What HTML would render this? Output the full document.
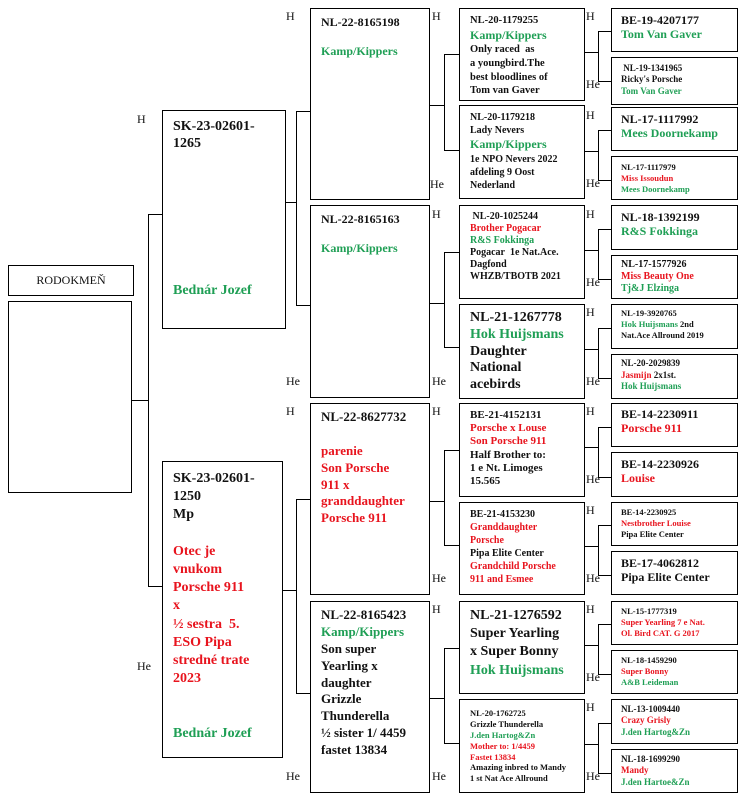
<!DOCTYPE html>
<html><head><meta charset="utf-8"><style>
body{margin:0;width:755px;height:809px;background:#fff;position:relative;overflow:hidden;font-family:"Liberation Serif",serif;font-weight:bold;color:#111}
.b{position:absolute;border:1.5px solid #000;box-sizing:border-box;padding:4px 8px;line-height:1.2}
.l{position:absolute;background:#000}
.t{position:absolute;font-weight:normal;font-size:12px}
.g{color:#1f9f55}.r{color:#e8141e}
</style></head><body>
<div class="b" style="left:8px;top:265px;width:126px;height:31px;font-weight:normal;font-size:12px;text-align:center;padding-top:7px">RODOKMEŇ</div>
<div class="b" style="left:8px;top:301px;width:124px;height:192px"></div>
<div class="b" style="left:162px;top:110px;width:124px;height:219px;font-size:14px;padding:8px 10px">SK-23-02601-<br>1265<div class="g" style="position:absolute;top:172px;left:10px">Bednár Jozef</div></div>
<div class="b" style="left:162px;top:461px;width:121px;height:297px;font-size:14px;padding:8px 10px;line-height:1.3">SK-23-02601-<br>1250<br>Mp<br><br><span class="r">Otec je<br>vnukom<br>Porsche 911<br>x<br>½ sestra&nbsp; 5.<br>ESO Pipa<br>stredné trate<br>2023</span><br><br><br><span class="g">Bednár Jozef</span></div>
<div class="b" style="left:310px;top:8px;width:120px;height:192px;font-size:12px;padding:6px 10px">NL-22-8165198<br><br><span class="g">Kamp/Kippers</span></div>
<div class="b" style="left:310px;top:205px;width:120px;height:193px;font-size:12px;padding:6px 10px">NL-22-8165163<br><br><span class="g">Kamp/Kippers</span></div>
<div class="b" style="left:310px;top:403px;width:120px;height:192px;font-size:13px;padding:5px 10px;line-height:1.3">NL-22-8627732<br><br><span class="r">parenie<br>Son Porsche<br>911 x<br>granddaughter<br>Porsche 911</span></div>
<div class="b" style="left:310px;top:601px;width:120px;height:192px;font-size:13px;padding:5px 10px;line-height:1.3">NL-22-8165423<br><span class="g">Kamp/Kippers</span><br>Son super<br>Yearling x<br>daughter<br>Grizzle<br>Thunderella<br>½ sister 1/ 4459<br>fastet 13834</div>
<div class="b" style="left:459px;top:8px;width:126px;height:93px;font-size:10.5px;padding:5px 10px;line-height:1.3">NL-20-1179255<br><span class="g" style="font-size:12px">Kamp/Kippers</span><br>Only raced&nbsp; as<br>a youngbird.The<br>best bloodlines of<br>Tom van Gaver</div>
<div class="b" style="left:459px;top:105px;width:126px;height:94px;font-size:10px;padding:5px 10px;line-height:1.3">NL-20-1179218<br>Lady Nevers<br><span class="g" style="font-size:12px">Kamp/Kippers</span><br>1e NPO Nevers 2022<br>afdeling 9 Oost<br>Nederland</div>
<div class="b" style="left:459px;top:205px;width:126px;height:94px;font-size:10px;padding:5px 10px;line-height:1.2">&nbsp;NL-20-1025244<br><span class="r">Brother Pogacar</span><br><span class="g">R&amp;S Fokkinga</span><br>Pogacar&nbsp; 1e Nat.Ace.<br>Dagfond<br>WHZB/TBOTB 2021</div>
<div class="b" style="left:459px;top:304px;width:126px;height:95px;font-size:14px;padding:5px 10px;line-height:1.2">NL-21-1267778<br><span class="g">Hok Huijsmans</span><br>Daughter<br>National<br>acebirds</div>
<div class="b" style="left:459px;top:403px;width:126px;height:94px;font-size:11px;padding:5px 10px;line-height:1.2">BE-21-4152131<br><span class="r">Porsche x Louse<br>Son Porsche 911</span><br>Half Brother to:<br>1 e Nt. Limoges<br>15.565</div>
<div class="b" style="left:459px;top:502px;width:126px;height:93px;font-size:10px;padding:5px 10px;line-height:1.3">BE-21-4153230<br><span class="r">Granddaughter<br>Porsche</span><br>Pipa Elite Center<br><span class="r">Grandchild Porsche<br>911 and Esmee</span></div>
<div class="b" style="left:459px;top:601px;width:126px;height:93px;font-size:14px;padding:5px 10px;line-height:1.3">NL-21-1276592<br>Super Yearling<br>x Super Bonny<br><span class="g">Hok Huijsmans</span></div>
<div class="b" style="left:459px;top:699px;width:126px;height:94px;font-size:8.5px;padding:8px 10px;line-height:1.28">NL-20-1762725<br>Grizzle Thunderella<br><span class="g">J.den Hartog&amp;Zn</span><br><span class="r">Mother to: 1/4459<br>Fastet 13834</span><br>Amazing inbred to Mandy<br>1 st Nat Ace Allround</div>
<div class="b" style="left:611px;top:8px;width:127px;height:44px;font-size:12px;padding:4px 9px">BE-19-4207177<br><span class="g">Tom Van Gaver</span></div>
<div class="b" style="left:611px;top:57px;width:127px;height:48px;font-size:9px;padding:5px 9px;line-height:1.25">&nbsp;NL-19-1341965<br>Ricky's Porsche<br><span class="g">Tom Van Gaver</span></div>
<div class="b" style="left:611px;top:107px;width:127px;height:44px;font-size:12px;padding:4px 9px">NL-17-1117992<br><span class="g">Mees Doornekamp</span></div>
<div class="b" style="left:611px;top:156px;width:127px;height:44px;font-size:8.5px;padding:5px 9px;line-height:1.3">NL-17-1117979<br><span class="r">Miss Issoudun</span><br><span class="g">Mees Doornekamp</span></div>
<div class="b" style="left:611px;top:205px;width:127px;height:45px;font-size:12px;padding:4px 9px">NL-18-1392199<br><span class="g">R&amp;S Fokkinga</span></div>
<div class="b" style="left:611px;top:255px;width:127px;height:44px;font-size:10px;padding:3px 9px;line-height:1.2">NL-17-1577926<br><span class="r">Miss Beauty One</span><br><span class="g">Tj&amp;J Elzinga</span></div>
<div class="b" style="left:611px;top:304px;width:127px;height:45px;font-size:8.5px;padding:3px 9px;line-height:1.28">NL-19-3920765<br><span class="g">Hok Huijsmans</span> 2nd<br>Nat.Ace Allround 2019</div>
<div class="b" style="left:611px;top:354px;width:127px;height:45px;font-size:9px;padding:3px 9px;line-height:1.3">NL-20-2029839<br><span class="r">Jasmijn</span> 2x1st.<br><span class="g">Hok Huijsmans</span></div>
<div class="b" style="left:611px;top:403px;width:127px;height:44px;font-size:12px;padding:3px 9px">BE-14-2230911<br><span class="r">Porsche 911</span></div>
<div class="b" style="left:611px;top:452px;width:127px;height:45px;font-size:12px;padding:4px 9px">BE-14-2230926<br><span class="r">Louise</span></div>
<div class="b" style="left:611px;top:502px;width:127px;height:44px;font-size:8.5px;padding:4px 9px;line-height:1.3">BE-14-2230925<br><span class="r">Nestbrother Louise</span><br>Pipa Elite Center</div>
<div class="b" style="left:611px;top:551px;width:127px;height:44px;font-size:12px;padding:4px 9px">BE-17-4062812<br>Pipa Elite Center</div>
<div class="b" style="left:611px;top:601px;width:127px;height:44px;font-size:8.5px;padding:4px 9px;line-height:1.3">NL-15-1777319<br><span class="r">Super Yearling 7 e Nat.<br>Ol. Bird CAT. G 2017</span></div>
<div class="b" style="left:611px;top:650px;width:127px;height:44px;font-size:8.5px;padding:4px 9px;line-height:1.3">NL-18-1459290<br><span class="r">Super Bonny</span><br><span class="g">A&amp;B Leideman</span></div>
<div class="b" style="left:611px;top:699px;width:127px;height:45px;font-size:9px;padding:4px 9px;line-height:1.25">NL-13-1009440<br><span class="r">Crazy Grisly</span><br><span class="g">J.den Hartog&amp;Zn</span></div>
<div class="b" style="left:611px;top:749px;width:127px;height:44px;font-size:9px;padding:4px 9px;line-height:1.25">NL-18-1699290<br><span class="r">Mandy</span><br><span class="g">J.den Hartoe&amp;Zn</span></div>

<div class="l" style="left:132px;top:400px;width:16px;height:1px"></div>
<div class="l" style="left:148px;top:214px;width:1px;height:373px"></div>
<div class="l" style="left:148px;top:214px;width:14px;height:1px"></div>
<div class="l" style="left:148px;top:586px;width:14px;height:1px"></div>
<div class="l" style="left:285px;top:202px;width:11px;height:1px"></div>
<div class="l" style="left:296px;top:111px;width:1px;height:194px"></div>
<div class="l" style="left:296px;top:111px;width:14px;height:1px"></div>
<div class="l" style="left:296px;top:305px;width:14px;height:1px"></div>
<div class="l" style="left:282px;top:590px;width:14px;height:1px"></div>
<div class="l" style="left:296px;top:499px;width:1px;height:194px"></div>
<div class="l" style="left:296px;top:499px;width:14px;height:1px"></div>
<div class="l" style="left:296px;top:693px;width:14px;height:1px"></div>
<div class="l" style="left:429px;top:105px;width:15px;height:1px"></div>
<div class="l" style="left:444px;top:54px;width:1px;height:96px"></div>
<div class="l" style="left:444px;top:54px;width:15px;height:1px"></div>
<div class="l" style="left:444px;top:150px;width:15px;height:1px"></div>
<div class="l" style="left:429px;top:303px;width:15px;height:1px"></div>
<div class="l" style="left:444px;top:252px;width:1px;height:95px"></div>
<div class="l" style="left:444px;top:252px;width:15px;height:1px"></div>
<div class="l" style="left:444px;top:347px;width:15px;height:1px"></div>
<div class="l" style="left:429px;top:501px;width:15px;height:1px"></div>
<div class="l" style="left:444px;top:450px;width:1px;height:95px"></div>
<div class="l" style="left:444px;top:450px;width:15px;height:1px"></div>
<div class="l" style="left:444px;top:545px;width:15px;height:1px"></div>
<div class="l" style="left:429px;top:698px;width:15px;height:1px"></div>
<div class="l" style="left:444px;top:648px;width:1px;height:95px"></div>
<div class="l" style="left:444px;top:648px;width:15px;height:1px"></div>
<div class="l" style="left:444px;top:743px;width:15px;height:1px"></div>
<div class="l" style="left:584px;top:52px;width:14px;height:1px"></div>
<div class="l" style="left:598px;top:31px;width:1px;height:50px"></div>
<div class="l" style="left:598px;top:31px;width:13px;height:1px"></div>
<div class="l" style="left:598px;top:81px;width:13px;height:1px"></div>
<div class="l" style="left:584px;top:151px;width:14px;height:1px"></div>
<div class="l" style="left:598px;top:130px;width:1px;height:50px"></div>
<div class="l" style="left:598px;top:130px;width:13px;height:1px"></div>
<div class="l" style="left:598px;top:180px;width:13px;height:1px"></div>
<div class="l" style="left:584px;top:250px;width:14px;height:1px"></div>
<div class="l" style="left:598px;top:229px;width:1px;height:50px"></div>
<div class="l" style="left:598px;top:229px;width:13px;height:1px"></div>
<div class="l" style="left:598px;top:279px;width:13px;height:1px"></div>
<div class="l" style="left:584px;top:349px;width:14px;height:1px"></div>
<div class="l" style="left:598px;top:328px;width:1px;height:50px"></div>
<div class="l" style="left:598px;top:328px;width:13px;height:1px"></div>
<div class="l" style="left:598px;top:378px;width:13px;height:1px"></div>
<div class="l" style="left:584px;top:447px;width:14px;height:1px"></div>
<div class="l" style="left:598px;top:427px;width:1px;height:50px"></div>
<div class="l" style="left:598px;top:427px;width:13px;height:1px"></div>
<div class="l" style="left:598px;top:477px;width:13px;height:1px"></div>
<div class="l" style="left:584px;top:546px;width:14px;height:1px"></div>
<div class="l" style="left:598px;top:525px;width:1px;height:50px"></div>
<div class="l" style="left:598px;top:525px;width:13px;height:1px"></div>
<div class="l" style="left:598px;top:575px;width:13px;height:1px"></div>
<div class="l" style="left:584px;top:645px;width:14px;height:1px"></div>
<div class="l" style="left:598px;top:624px;width:1px;height:50px"></div>
<div class="l" style="left:598px;top:624px;width:13px;height:1px"></div>
<div class="l" style="left:598px;top:674px;width:13px;height:1px"></div>
<div class="l" style="left:584px;top:744px;width:14px;height:1px"></div>
<div class="l" style="left:598px;top:723px;width:1px;height:50px"></div>
<div class="l" style="left:598px;top:723px;width:13px;height:1px"></div>
<div class="l" style="left:598px;top:773px;width:13px;height:1px"></div>

<div class="t" style="left:137px;top:112px">H</div>
<div class="t" style="left:137px;top:659px">He</div>
<div class="t" style="left:286px;top:9px">H</div>
<div class="t" style="left:286px;top:374px">He</div>
<div class="t" style="left:286px;top:404px">H</div>
<div class="t" style="left:286px;top:769px">He</div>
<div class="t" style="left:432px;top:9px">H</div><div class="t" style="left:430px;top:177px">He</div>
<div class="t" style="left:432px;top:207px">H</div><div class="t" style="left:432px;top:374px">He</div>
<div class="t" style="left:432px;top:404px">H</div><div class="t" style="left:432px;top:571px">He</div>
<div class="t" style="left:432px;top:602px">H</div><div class="t" style="left:432px;top:769px">He</div>
<div class="t" style="left:586px;top:9px">H</div><div class="t" style="left:586px;top:77px">He</div>
<div class="t" style="left:586px;top:108px">H</div><div class="t" style="left:586px;top:176px">He</div>
<div class="t" style="left:586px;top:207px">H</div><div class="t" style="left:586px;top:275px">He</div>
<div class="t" style="left:586px;top:305px">H</div><div class="t" style="left:586px;top:374px">He</div>
<div class="t" style="left:586px;top:404px">H</div><div class="t" style="left:586px;top:472px">He</div>
<div class="t" style="left:586px;top:503px">H</div><div class="t" style="left:586px;top:571px">He</div>
<div class="t" style="left:586px;top:602px">H</div><div class="t" style="left:586px;top:670px">He</div>
<div class="t" style="left:586px;top:700px">H</div><div class="t" style="left:586px;top:769px">He</div>
</body></html>
